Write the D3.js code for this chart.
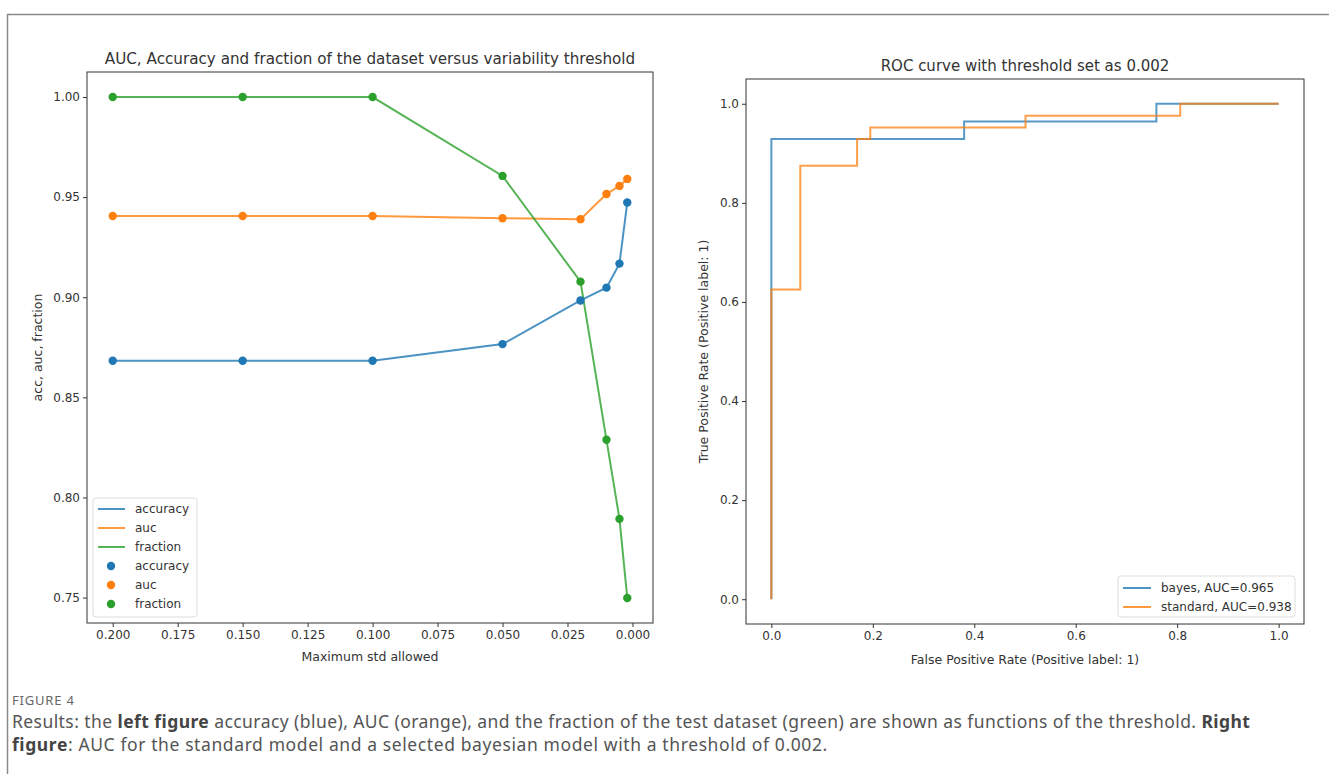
<!DOCTYPE html>
<html>
<head>
<meta charset="utf-8">
<script src="https://cdn.jsdelivr.net/npm/d3@7"></script>
<style>
  body { margin: 0; background: #fff; }
  svg text { font-family: "DejaVu Sans", sans-serif; fill: #333; }
  .caption text { font-family: "Noto Sans", sans-serif; }
</style>
</head>
<body>
<div id="chart"></div>
<script>
// Left figure data: thresholds and the three metrics
var thresholds = [0.2, 0.15, 0.1, 0.05, 0.02, 0.01, 0.005, 0.002];
var accuracy = [0.8683, 0.8683, 0.8683, 0.8766, 0.8984, 0.9048, 0.9168, 0.9473];
var auc = [0.9406, 0.9406, 0.9406, 0.9395, 0.9390, 0.9516, 0.9556, 0.9591];
var fraction = [1.0, 1.0, 1.0, 0.9606, 0.9078, 0.8288, 0.7893, 0.7498];
var leftXTicks = [0.2, 0.175, 0.15, 0.125, 0.1, 0.075, 0.05, 0.025, 0.0];
var leftYTicks = [0.75, 0.80, 0.85, 0.90, 0.95, 1.00];

// Right figure data: ROC curves
var bayesFpr = [0, 0, 0.38, 0.38, 0.759, 0.759, 1];
var bayesTpr = [0, 0.929, 0.929, 0.964, 0.964, 1, 1];
var standardFpr = [0, 0, 0.057, 0.057, 0.169, 0.169, 0.195, 0.195, 0.501, 0.501, 0.806, 0.806, 1];
var standardTpr = [0, 0.625, 0.625, 0.875, 0.875, 0.929, 0.929, 0.952, 0.952, 0.976, 0.976, 1, 1];
var rocTicks = [0, 0.2, 0.4, 0.6, 0.8, 1.0];

var blue = "#1f77b4", orange = "#ff7f0e", green = "#2ca02c";

var svg = d3.select("#chart").append("svg")
  .attr("width", 1329)
  .attr("height", 774);

// outer frame of the figure panel
svg.append("path")
  .attr("d", "M7.5,780 V14.5 H1340")
  .attr("fill", "none")
  .attr("stroke", "#8a8a8a")
  .attr("stroke-width", 1.5);

// ---------- Left chart ----------
var L = { left: 87, top: 72, right: 653, bottom: 623 };
var xL = d3.scaleLinear().domain([0.2099, -0.0079]).range([L.left, L.right]);
var yL = d3.scaleLinear().domain([0.7373, 1.0125]).range([L.bottom, L.top]);

var gL = svg.append("g");

gL.append("g")
  .attr("transform", `translate(0, ${L.bottom})`)
  .call(d3.axisBottom(xL).tickValues(leftXTicks).tickFormat(d3.format(".3f")).tickSizeOuter(0).tickSize(4))
  .call(styleAxis);

gL.append("g")
  .attr("transform", `translate(${L.left}, 0)`)
  .call(d3.axisLeft(yL).tickValues(leftYTicks).tickFormat(d3.format(".2f")).tickSizeOuter(0).tickSize(4))
  .call(styleAxis);

frame(gL, L);

var seriesL = [
  { name: "accuracy", values: accuracy, color: blue },
  { name: "auc", values: auc, color: orange },
  { name: "fraction", values: fraction, color: green }
];

var lineL = d3.line()
  .x((d, i) => xL(thresholds[i]))
  .y(d => yL(d));

seriesL.forEach(function(s) {
  gL.append("path")
    .attr("d", lineL(s.values))
    .attr("fill", "none")
    .attr("stroke", s.color)
    .attr("stroke-opacity", 0.8)
    .attr("stroke-width", 2);
});

seriesL.forEach(function(s) {
  gL.selectAll(null)
    .data(s.values)
    .enter()
    .append("circle")
    .attr("cx", (d, i) => xL(thresholds[i]))
    .attr("cy", d => yL(d))
    .attr("r", 4.2)
    .attr("fill", s.color);
});

gL.append("text")
  .attr("x", 370)
  .attr("y", 64)
  .attr("text-anchor", "middle")
  .attr("font-size", 15.2)
  .text("AUC, Accuracy and fraction of the dataset versus variability threshold");

gL.append("text")
  .attr("x", (L.left + L.right) / 2)
  .attr("y", 661)
  .attr("text-anchor", "middle")
  .attr("font-size", 12.5)
  .text("Maximum std allowed");

gL.append("text")
  .attr("transform", `translate(42, ${(L.top + L.bottom) / 2}) rotate(-90)`)
  .attr("text-anchor", "middle")
  .attr("font-size", 12.5)
  .text("acc, auc, fraction");

// left legend
var legL = gL.append("g").attr("transform", "translate(93, 498)");
legL.append("rect")
  .attr("width", 104).attr("height", 119).attr("rx", 3)
  .attr("fill", "#fff").attr("fill-opacity", 0.8)
  .attr("stroke", "#ddd");
seriesL.forEach(function(s, i) {
  var y = 11 + i * 19;
  legL.append("line").attr("x1", 5).attr("x2", 32).attr("y1", y).attr("y2", y)
    .attr("stroke", s.color).attr("stroke-opacity", 0.8).attr("stroke-width", 2);
  legL.append("text").attr("x", 42).attr("y", y + 4).attr("font-size", 12).text(s.name);
});
seriesL.forEach(function(s, i) {
  var y = 11 + (i + 3) * 19;
  legL.append("circle").attr("cx", 18).attr("cy", y).attr("r", 4.2).attr("fill", s.color);
  legL.append("text").attr("x", 42).attr("y", y + 4).attr("font-size", 12).text(s.name);
});

// ---------- Right chart ----------
var R = { left: 746, top: 79, right: 1304, bottom: 624 };
var xR = d3.scaleLinear().domain([-0.05, 1.05]).range([R.left, R.right]);
var yR = d3.scaleLinear().domain([-0.05, 1.05]).range([R.bottom, R.top]);

var gR = svg.append("g");

gR.append("g")
  .attr("transform", `translate(0, ${R.bottom})`)
  .call(d3.axisBottom(xR).tickValues(rocTicks).tickFormat(d3.format(".1f")).tickSizeOuter(0).tickSize(4))
  .call(styleAxis);

gR.append("g")
  .attr("transform", `translate(${R.left}, 0)`)
  .call(d3.axisLeft(yR).tickValues(rocTicks).tickFormat(d3.format(".1f")).tickSizeOuter(0).tickSize(4))
  .call(styleAxis);

frame(gR, R);

var rocSeries = [
  { name: "bayes, AUC=0.965", fpr: bayesFpr, tpr: bayesTpr, color: blue },
  { name: "standard, AUC=0.938", fpr: standardFpr, tpr: standardTpr, color: orange }
];

rocSeries.forEach(function(s) {
  var pts = s.fpr.map((f, i) => [f, s.tpr[i]]);
  gR.append("path")
    .attr("d", d3.line().x(d => xR(d[0])).y(d => yR(d[1]))(pts))
    .attr("fill", "none")
    .attr("stroke", s.color)
    .attr("stroke-opacity", 0.75)
    .attr("stroke-width", 2);
});

gR.append("text")
  .attr("x", 1025)
  .attr("y", 71)
  .attr("text-anchor", "middle")
  .attr("font-size", 15)
  .text("ROC curve with threshold set as 0.002");

gR.append("text")
  .attr("x", 1025)
  .attr("y", 664)
  .attr("text-anchor", "middle")
  .attr("font-size", 12.5)
  .text("False Positive Rate (Positive label: 1)");

gR.append("text")
  .attr("transform", `translate(708, ${(R.top + R.bottom) / 2}) rotate(-90)`)
  .attr("text-anchor", "middle")
  .attr("font-size", 12.5)
  .text("True Positive Rate (Positive label: 1)");

var legR = gR.append("g").attr("transform", "translate(1118, 576)");
legR.append("rect")
  .attr("width", 177).attr("height", 41).attr("rx", 3)
  .attr("fill", "#fff").attr("fill-opacity", 0.8)
  .attr("stroke", "#ddd");
rocSeries.forEach(function(s, i) {
  var y = 12 + i * 19;
  legR.append("line").attr("x1", 5).attr("x2", 33).attr("y1", y).attr("y2", y)
    .attr("stroke", s.color).attr("stroke-opacity", 0.8).attr("stroke-width", 2);
  legR.append("text").attr("x", 43).attr("y", y + 4).attr("font-size", 12).text(s.name);
});

// ---------- Caption ----------
var cap = svg.append("g").attr("class", "caption");
cap.append("text")
  .attr("x", 12).attr("y", 705)
  .attr("font-size", 13).attr("letter-spacing", 0.8).style("fill", "#666")
  .text("FIGURE 4");

var line1 = cap.append("text").attr("x", 12).attr("y", 728)
  .attr("font-size", 17.5).attr("letter-spacing", 0.43).style("fill", "#555");
line1.append("tspan").text("Results: the ");
line1.append("tspan").attr("font-weight", "bold").style("fill", "#444").text("left figure");
line1.append("tspan").text(" accuracy (blue), AUC (orange), and the fraction of the test dataset (green) are shown as functions of the threshold. ");
line1.append("tspan").attr("font-weight", "bold").style("fill", "#444").text("Right");

var line2 = cap.append("text").attr("x", 12).attr("y", 751)
  .attr("font-size", 17.5).attr("letter-spacing", 0.6).style("fill", "#555");
line2.append("tspan").attr("font-weight", "bold").style("fill", "#444").text("figure");
line2.append("tspan").text(": AUC for the standard model and a selected bayesian model with a threshold of 0.002.");

// ---------- helpers ----------
function styleAxis(g) {
  g.select(".domain").remove();
  g.selectAll(".tick line").attr("stroke", "#333");
  g.selectAll(".tick text").attr("font-size", 12).style("font-family", "DejaVu Sans, sans-serif").attr("fill", "#333");
}

function frame(g, b) {
  g.append("rect")
    .attr("x", b.left).attr("y", b.top)
    .attr("width", b.right - b.left).attr("height", b.bottom - b.top)
    .attr("fill", "none")
    .attr("stroke", "#333")
    .attr("stroke-width", 1);
}
</script>
</body>
</html>
